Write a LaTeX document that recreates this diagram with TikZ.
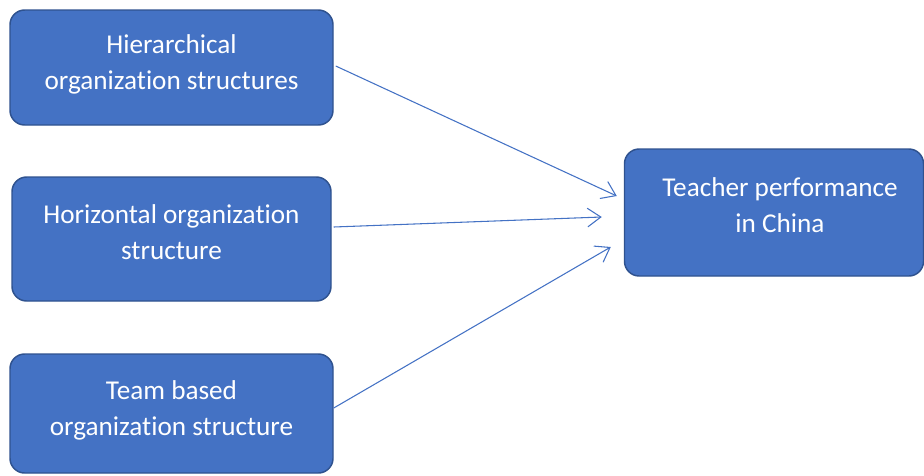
\documentclass[tikz,border=0pt]{standalone}
\usepackage{fontspec}
\setmainfont{Carlito}[Ligatures=NoCommon]
\usetikzlibrary{arrows.meta}
\definecolor{boxfill}{HTML}{4472C4}
\definecolor{boxline}{HTML}{2F528F}
\definecolor{arrowc}{HTML}{4472C4}
\begin{document}
\begin{tikzpicture}[x=0.75pt,y=-0.75pt,
  box/.style={draw=boxline,line width=1.1pt,fill=boxfill,rounded corners=11pt,inner sep=0pt},
  label/.style={text=white,align=center,font=\fontsize{20.4}{27}\selectfont},
  link/.style={draw=arrowc,line width=0.8pt,-{Straight Barb[length=10pt,width=14pt,line width=0.8pt]}}]
\useasboundingbox (0,0) rectangle (924,475);

% source boxes
\node[box,minimum width=242.25pt,minimum height=86.25pt] (b1) at (171.5,67.5) {};
\node[box,minimum width=239.25pt,minimum height=93pt] (b2) at (171.5,239) {};
\node[box,minimum width=242.25pt,minimum height=89.25pt] (b3) at (171.5,413.5) {};
% target box
\node[box,minimum width=224.25pt,minimum height=95.25pt] (tp) at (774,212.5) {};

\node[label] (l1) at (171.5,64) {Hierarchical\\organization structures};
\node[label] (l2) at (171.5,232) {Horizontal organization\\structure};
\node[label] (l3) at (171.5,410) {Team based\\organization structure};
\node[label] (l4) at (780,205) {Teacher performance\\in China};

% arrow start points on the source boxes, end points just short of the target
\coordinate (s1) at ([shift={(2,-1.5)}]b1.east);
\coordinate (s2) at ([shift={(2,-12)}]b2.east);
\coordinate (s3) at ([shift={(0,-5.5)}]b3.east);
\coordinate (e1) at ([shift={(-7,-16.5)}]tp.west);
\coordinate (e2) at ([shift={(-22,4.5)}]tp.west);
\coordinate (e3) at ([shift={(-13,34.5)}]tp.west);

\draw[link] (s1) -- (e1);
\draw[link] (s2) -- (e2);
\draw[link] (s3) -- (e3);
\end{tikzpicture}
\end{document}
